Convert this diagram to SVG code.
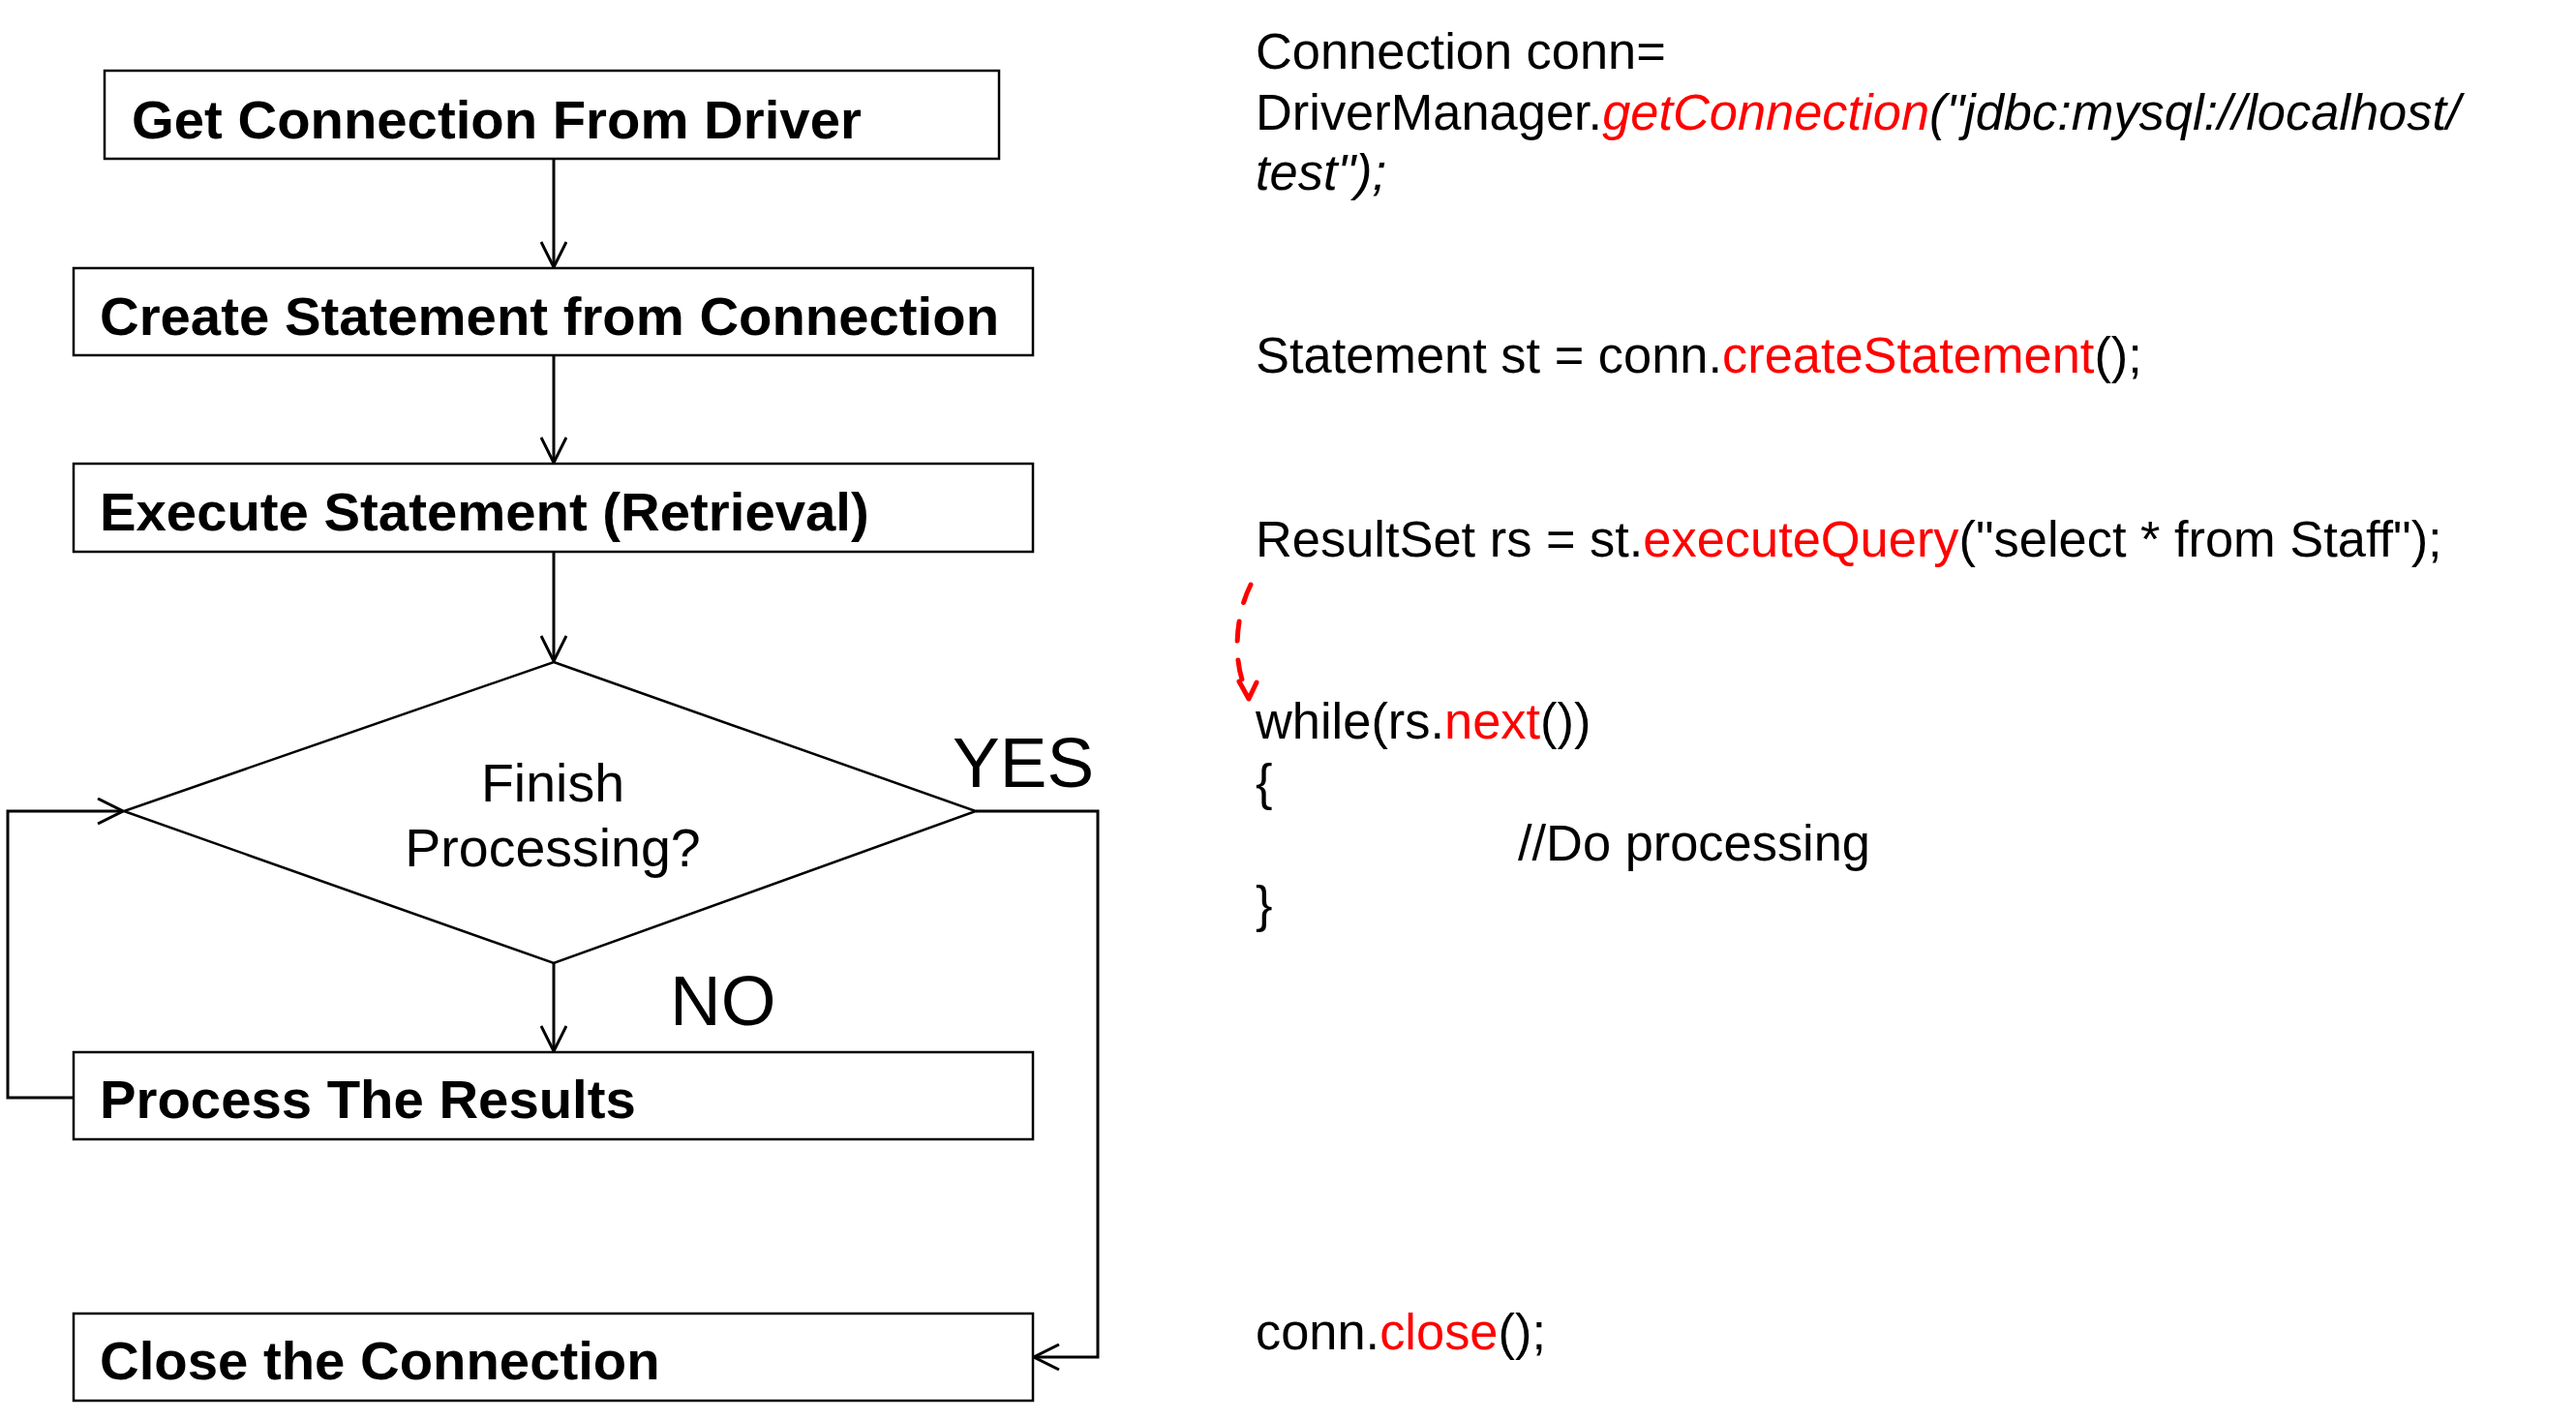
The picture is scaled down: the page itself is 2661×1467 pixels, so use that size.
<svg xmlns="http://www.w3.org/2000/svg" width="2661" height="1467" viewBox="0 0 2661 1467">
<style>
.box{fill:#fff;stroke:#000;stroke-width:2.5}
.lbl{font-family:"Liberation Sans",Arial,sans-serif;font-weight:bold;font-size:56.3px;fill:#000}
.dtxt{font-family:"Liberation Sans",Arial,sans-serif;font-size:55.5px;fill:#000;text-anchor:middle}
.yn{font-family:"Liberation Sans",Arial,sans-serif;font-size:73px;fill:#000}
.code{font-family:"Liberation Sans",Arial,sans-serif;font-size:52.4px;fill:#000}
.red{fill:#ff0000}
.it{font-style:italic}
.conn{fill:none;stroke:#000;stroke-width:3}
</style>
<defs>
<marker id="arr" viewBox="0 0 28 28" markerWidth="28" markerHeight="28" refX="27" refY="14" orient="auto" markerUnits="userSpaceOnUse">
<path d="M1,1 L27,14 L1,27" fill="none" stroke="#000" stroke-width="3"/>
</marker>
</defs>
<rect width="2661" height="1467" fill="#fff"/>
<g id="connectors">
<line class="conn" x1="572" y1="164" x2="572" y2="276" marker-end="url(#arr)"/>
<line class="conn" x1="572" y1="367" x2="572" y2="478" marker-end="url(#arr)"/>
<line class="conn" x1="572" y1="570" x2="572" y2="683" marker-end="url(#arr)"/>
<line class="conn" x1="572" y1="995" x2="572" y2="1086" marker-end="url(#arr)"/>
<polyline class="conn" points="76,1134 8,1134 8,838 127,838" marker-end="url(#arr)"/>
<polyline class="conn" points="1008,838 1134,838 1134,1402 1068,1402" marker-end="url(#arr)"/>
<text class="yn" x="984" y="813">YES</text>
<text class="yn" x="692" y="1059">NO</text>
</g>
<g id="n1">
<rect class="box" x="108" y="73" width="924" height="91"/>
<text class="lbl" x="136" y="143">Get Connection From Driver</text>
</g>
<g id="n2">
<rect class="box" x="76" y="277" width="991" height="90"/>
<text class="lbl" x="103" y="346">Create Statement from Connection</text>
</g>
<g id="n3">
<rect class="box" x="76" y="479" width="991" height="91"/>
<text class="lbl" x="103" y="548">Execute Statement (Retrieval)</text>
</g>
<g id="n4">
<polygon points="572,684 1008,838 572,995 128,838" fill="#fff" stroke="#000" stroke-width="2.5"/>
<text class="dtxt" x="571" y="828">Finish</text>
<text class="dtxt" x="571" y="895">Processing?</text>
</g>
<g id="n5">
<rect class="box" x="76" y="1087" width="991" height="90"/>
<text class="lbl" x="103" y="1155">Process The Results</text>
</g>
<g id="n6">
<rect class="box" x="76" y="1357" width="991" height="90"/>
<text class="lbl" x="103" y="1425">Close the Connection</text>
</g>
<g id="code">
<text class="code" x="1297" y="71">Connection conn=</text>
<text class="code" x="1297" y="134">DriverManager.<tspan class="red it">getConnection</tspan><tspan class="it">("jdbc:mysql://localhost/</tspan></text>
<text class="code it" x="1297" y="196">test");</text>
<text class="code" x="1297" y="385">Statement st = conn.<tspan class="red">createStatement</tspan>();</text>
<text class="code" x="1297" y="575">ResultSet rs = st.<tspan class="red">executeQuery</tspan>("select * from Staff");</text>
<text class="code" x="1297" y="763">while(rs.<tspan class="red">next</tspan>())</text>
<text class="code" x="1297" y="826">{</text>
<text class="code" x="1568" y="889">//Do processing</text>
<text class="code" x="1297" y="952">}</text>
<text class="code" x="1297" y="1394">conn.<tspan class="red">close</tspan>();</text>
</g>
<g id="loop-hint">
<path d="M1292,604 C1274,640 1274,690 1289,716" fill="none" stroke="#ff0000" stroke-width="5" stroke-dasharray="20 20" stroke-linecap="round"/>
<path d="M1280,704 L1290,722 L1298,705" fill="none" stroke="#ff0000" stroke-width="5" stroke-linecap="round" stroke-linejoin="round"/>
</g>
</svg>
